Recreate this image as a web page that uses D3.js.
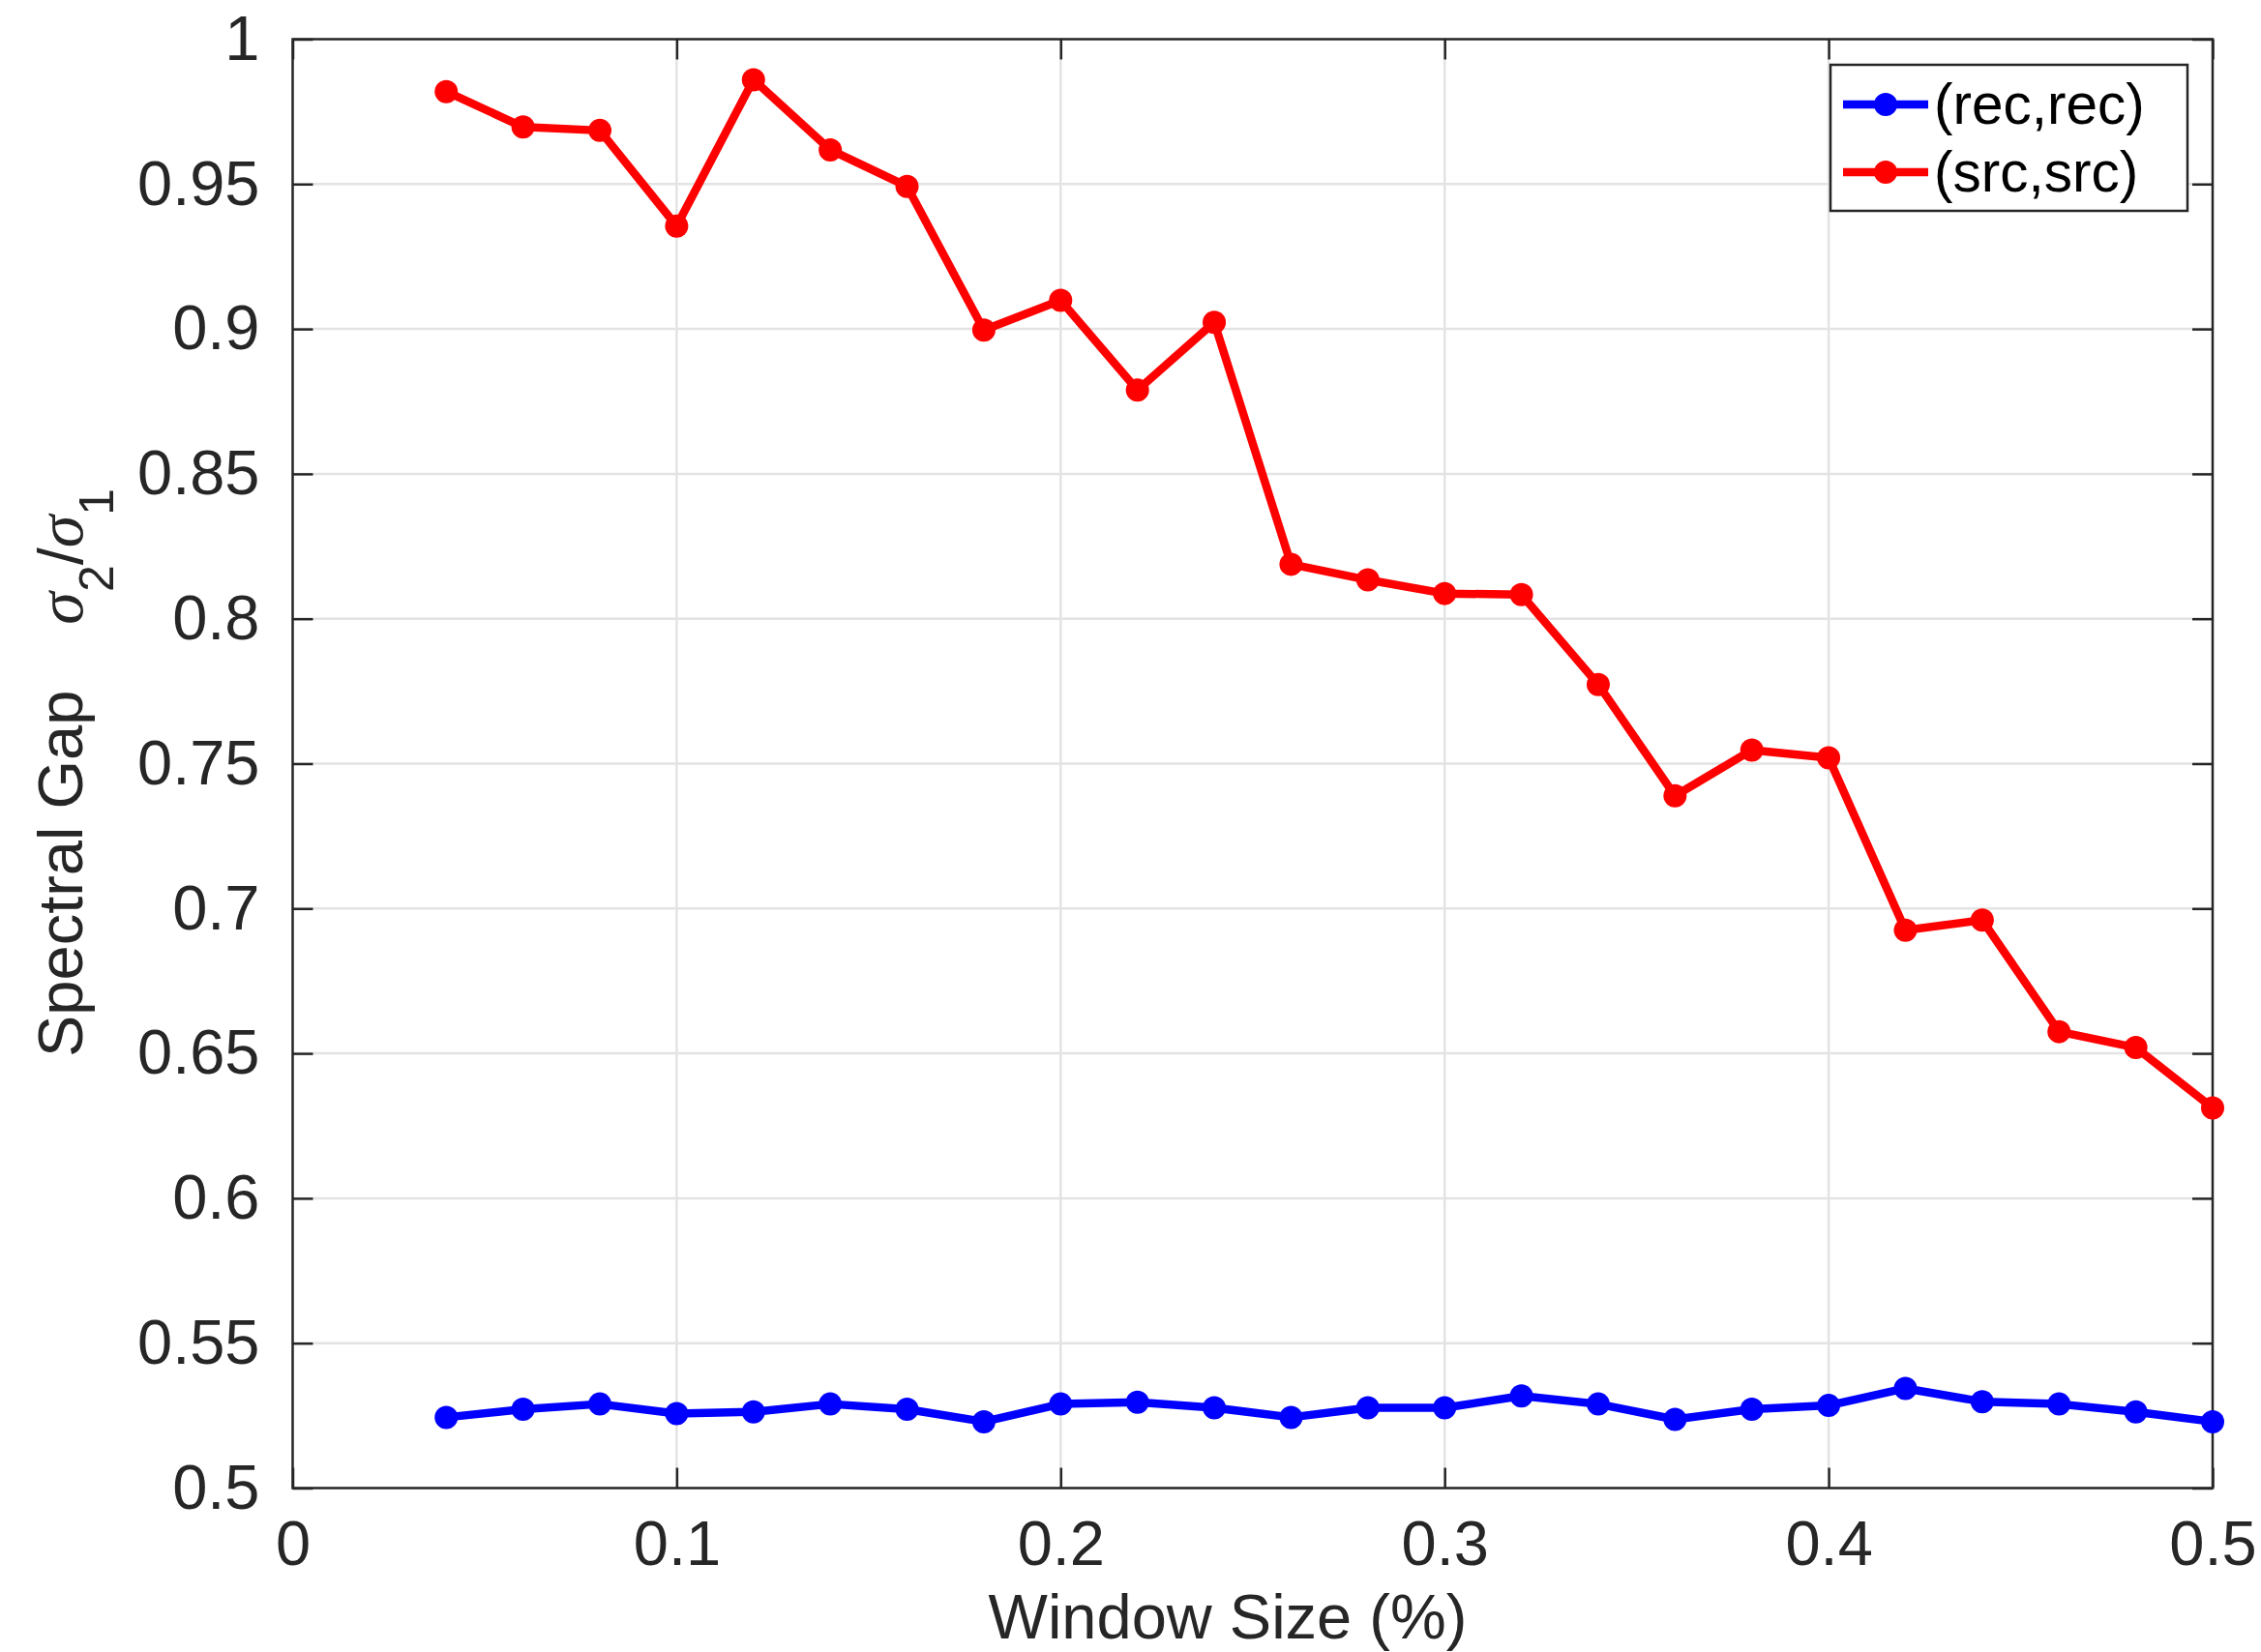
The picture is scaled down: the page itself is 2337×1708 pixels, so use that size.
<!DOCTYPE html>
<html lang = "en">
    <head>
        <meta charset = "UTF-8">
        <title>Spectral Gap vs Window Size</title>
        <script src = "https://cdn.jsdelivr.net/npm/d3@7/dist/d3.min.js"></script>
        <style>
            body { margin: 0; background: #fff; }
            svg text { font-family: "Liberation Sans", Arial, Helvetica, sans-serif; fill: #262626; }
            .axis path.domain { display: none; }
            .axis line { stroke: #262626; stroke-width: 2.5px; }
            .axis text { font-size: 65px; }
            .grid line { stroke: #e3e3e3; stroke-width: 2.5px; }
        </style>
    </head>
    <body>
        <svg id = "chart" width = "2337" height = "1708"></svg>

        <script>
            var windowSize = [0.04, 0.06, 0.08, 0.10, 0.12, 0.14, 0.16, 0.18, 0.20, 0.22, 0.24, 0.26,
                              0.28, 0.30, 0.32, 0.34, 0.36, 0.38, 0.40, 0.42, 0.44, 0.46, 0.48, 0.50];
            var recRec = [0.5244, 0.5272, 0.5290, 0.5257, 0.5263, 0.5290, 0.5272, 0.5229, 0.5290, 0.5296, 0.5277, 0.5244,
                          0.5277, 0.5277, 0.5318, 0.5290, 0.5237, 0.5272, 0.5285, 0.5344, 0.5298, 0.5290, 0.5263, 0.5229];
            var srcSrc = [0.9819, 0.9697, 0.9685, 0.9355, 0.9860, 0.9618, 0.9492, 0.8996, 0.9099, 0.8789, 0.9023, 0.8188,
                          0.8134, 0.8087, 0.8083, 0.7773, 0.7389, 0.7547, 0.7520, 0.6925, 0.6960, 0.6575, 0.6520, 0.6312];
            var seriesNames = ['(rec,rec)', '(src,src)'];
            var seriesColors = ['#0000ff', '#ff0000'];
            var xTicks = [0, 0.1, 0.2, 0.3, 0.4, 0.5];
            var xTickLabels = ['0', '0.1', '0.2', '0.3', '0.4', '0.5'];
            var yTicks = [0.5, 0.55, 0.6, 0.65, 0.7, 0.75, 0.8, 0.85, 0.9, 0.95, 1];
            var yTickLabels = ['0.5', '0.55', '0.6', '0.65', '0.7', '0.75', '0.8', '0.85', '0.9', '0.95', '1'];

            var margin = {top: 40.5, right: 50, bottom: 169.5, left: 302.5},
                W = 2337, H = 1708,
                w = W - margin.left - margin.right,
                h = H - margin.top - margin.bottom;

            var svg = d3.select('#chart');
            var g = svg.append('g').attr('transform', `translate(${margin.left},${margin.top})`);

            var x = d3.scaleLinear().domain([0, 0.5]).range([0, w]);
            var y = d3.scaleLinear().domain([0.5, 1]).range([h, 0]);

            // grid
            g.append('g').attr('class', 'grid')
                .selectAll('line.gx').data(xTicks.slice(1, -1)).join('line')
                .attr('x1', d => x(d)).attr('x2', d => x(d))
                .attr('y1', 0).attr('y2', h);
            g.append('g').attr('class', 'grid')
                .selectAll('line.gy').data(yTicks.slice(1, -1)).join('line')
                .attr('x1', 0).attr('x2', w)
                .attr('y1', d => y(d)).attr('y2', d => y(d));

            var tick = 21;

            g.append('g').attr('class', 'axis')
                .attr('transform', `translate(0,${h})`)
                .call(d3.axisBottom(x).tickValues(xTicks).tickFormat((d, i) => xTickLabels[i])
                    .tickSizeInner(-tick).tickSizeOuter(0).tickPadding(33));
            g.append('g').attr('class', 'axis')
                .call(d3.axisTop(x).tickValues(xTicks).tickFormat('')
                    .tickSizeInner(-tick).tickSizeOuter(0));
            g.append('g').attr('class', 'axis')
                .call(d3.axisLeft(y).tickValues(yTicks).tickFormat((d, i) => yTickLabels[i])
                    .tickSizeInner(-tick).tickSizeOuter(0).tickPadding(34));
            g.append('g').attr('class', 'axis')
                .attr('transform', `translate(${w},0)`)
                .call(d3.axisRight(y).tickValues(yTicks).tickFormat('')
                    .tickSizeInner(-tick).tickSizeOuter(0));

            g.append('rect')
                .attr('width', w).attr('height', h)
                .attr('fill', 'none').attr('stroke', '#262626').attr('stroke-width', 2.5);

            // series
            var series = [recRec, srcSrc];
            var line = d3.line().x((d, i) => x(windowSize[i])).y(d => y(d));

            series.forEach(function (vals, k) {
                g.append('path')
                    .datum(vals)
                    .attr('d', line)
                    .attr('fill', 'none')
                    .attr('stroke', seriesColors[k])
                    .attr('stroke-width', 8.5)
                    .attr('stroke-linejoin', 'round');
                g.append('g').selectAll('circle').data(vals).join('circle')
                    .attr('cx', (d, i) => x(windowSize[i])).attr('cy', d => y(d))
                    .attr('r', 12).attr('fill', seriesColors[k]);
            });

            // legend
            var lg = svg.append('g').attr('transform', 'translate(1892,67)');
            lg.append('rect')
                .attr('width', 369).attr('height', 151)
                .attr('fill', '#fff').attr('stroke', '#262626').attr('stroke-width', 2.5);
            seriesNames.forEach(function (name, k) {
                var ly = 41 + k * 70;
                lg.append('line')
                    .attr('x1', 13).attr('x2', 101).attr('y1', ly).attr('y2', ly)
                    .attr('stroke', seriesColors[k]).attr('stroke-width', 8.5);
                lg.append('circle')
                    .attr('cx', 57).attr('cy', ly).attr('r', 12).attr('fill', seriesColors[k]);
                lg.append('text')
                    .attr('x', 107).attr('y', ly)
                    .attr('dy', '0.35em')
                    .attr('font-size', '58.5px')
                    .style('fill', '#000')
                    .text(name);
            });

            // axis labels
            svg.append('text')
                .attr('x', 1269).attr('y', 1694)
                .attr('text-anchor', 'middle')
                .attr('font-size', '65px')
                .text('Window Size (%)');

            var yl = svg.append('text')
                .attr('transform', 'translate(85,1093) rotate(-90)')
                .attr('text-anchor', 'start')
                .attr('font-size', '65px');
            yl.append('tspan').text('Spectral Gap');
            yl.append('tspan').attr('dx', 68)
                .style('font-family', '"Liberation Serif", "DejaVu Serif", serif')
                .style('font-style', 'italic').attr('font-size', '68px').text('σ');
            yl.append('tspan').attr('dy', 32).attr('font-size', '50px').text('2');
            yl.append('tspan').attr('dy', -32).text('/');
            yl.append('tspan')
                .style('font-family', '"Liberation Serif", "DejaVu Serif", serif')
                .style('font-style', 'italic').attr('font-size', '68px').text('σ');
            yl.append('tspan').attr('dy', 32).attr('font-size', '50px').text('1');
        </script>
    </body>
</html>
